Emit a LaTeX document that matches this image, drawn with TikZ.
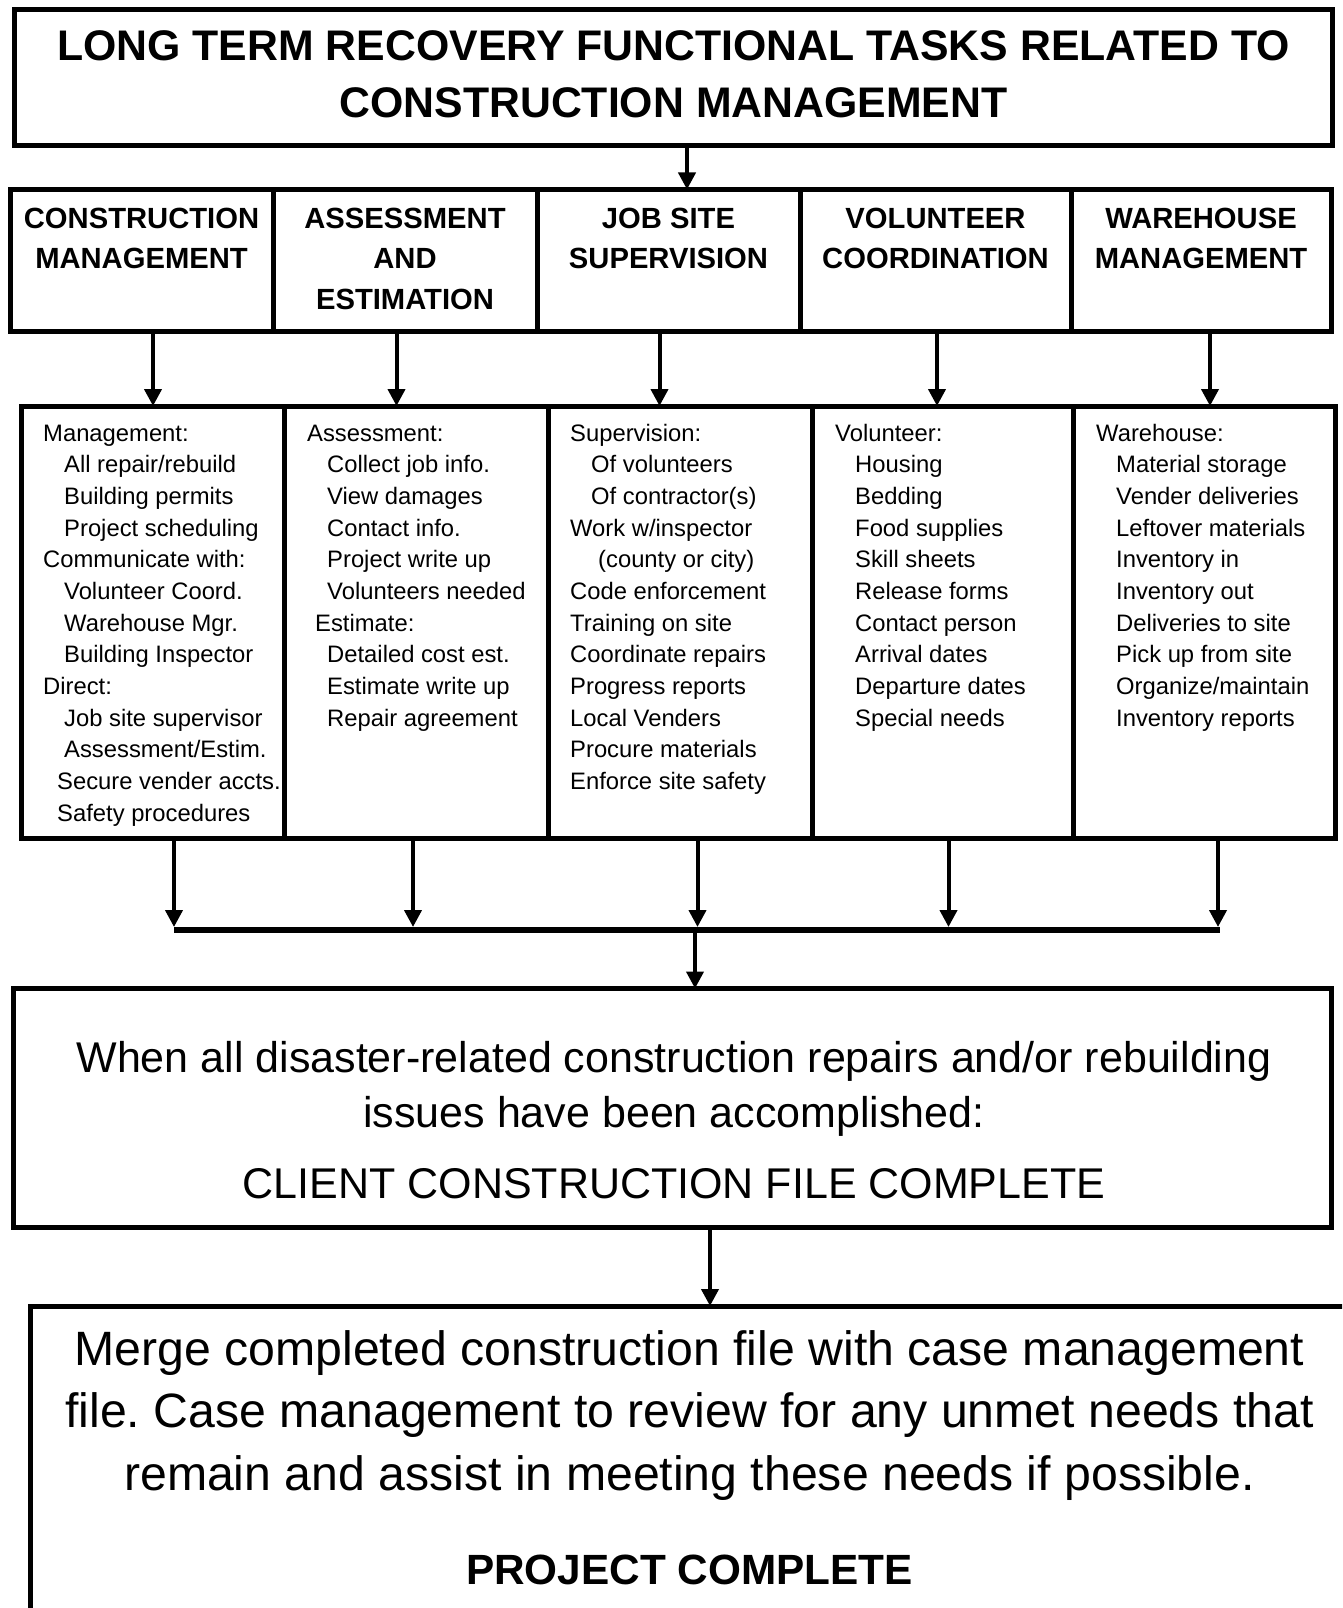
\documentclass[tikz,border=0pt]{standalone}
\usepackage{fontspec}
\setmainfont{Liberation Sans}
\usetikzlibrary{arrows.meta}
\frenchspacing
\begin{document}
\begin{tikzpicture}[x=1pt,y=-1pt,
  box/.style={draw, line width=5pt, rectangle, inner sep=0pt, outer sep=0pt},
  ttl/.style={inner sep=0pt, align=center, anchor=north, font=\bfseries\fontsize{42.8}{57}\selectfont},
  hdr/.style={inner sep=0pt, align=center, anchor=north, font=\bfseries\fontsize{29.2}{40.5}\selectfont},
  lst/.style={inner sep=0pt, align=left, anchor=north west, font=\fontsize{23.8}{31.67}\selectfont},
  arr/.style={line width=4pt, -{Triangle[width=17pt,length=17pt]}},
]
\useasboundingbox (0,0) rectangle (1342,1608);
\clip (0,0) rectangle (1342,1608);
\fill[white] (0,0) rectangle (1342,1608);

% title
\node[box, minimum width=1318pt, minimum height=136pt] (title) at (673,78) {};
\node[ttl] (ttltxt) at (673.5,20.1) {\strut LONG TERM RECOVERY FUNCTIONAL TASKS RELATED TO\\CONSTRUCTION MANAGEMENT};

% header cells
\node[box, minimum width=263pt, minimum height=141.5pt] (h1) at (141.5,260.25) {};
\node[box, minimum width=264pt, minimum height=141.5pt] (h2) at (405,260.25) {};
\node[box, minimum width=263pt, minimum height=141.5pt] (h3) at (668.5,260.25) {};
\node[box, minimum width=271pt, minimum height=141.5pt] (h4) at (935.5,260.25) {};
\node[box, minimum width=260pt, minimum height=141.5pt] (h5) at (1201,260.25) {};

\node[hdr] (ht1) at (141.5,199.65) {\strut CONSTRUCTION\\MANAGEMENT};
\node[hdr] (ht2) at (405,199.65) {\strut ASSESSMENT\\AND\\ESTIMATION};
\node[hdr] (ht3) at (668.5,199.65) {\strut JOB SITE\\SUPERVISION};
\node[hdr] (ht4) at (935.5,199.65) {\strut VOLUNTEER\\COORDINATION};
\node[hdr] (ht5) at (1201,199.65) {\strut WAREHOUSE\\MANAGEMENT};

\coordinate (t0) at (687,0);
\draw[arr] (t0 |- title.south) -- (t0 |- h3.north);

% detail cells
\node[box, minimum width=263pt, minimum height=432pt] (d1) at (152.5,622) {};
\node[box, minimum width=264pt, minimum height=432pt] (d2) at (416,622) {};
\node[box, minimum width=264pt, minimum height=432pt] (d3) at (680,622) {};
\node[box, minimum width=261pt, minimum height=432pt] (d4) at (942.5,622) {};
\node[box, minimum width=262pt, minimum height=432pt] (d5) at (1204,622) {};

\coordinate (a1) at (153,0);
\coordinate (a2) at (396.5,0);
\coordinate (a3) at (659.5,0);
\coordinate (a4) at (937,0);
\coordinate (a5) at (1210,0);
\draw[arr] (a1 |- h1.south) -- (a1 |- d1.north);
\draw[arr] (a2 |- h2.south) -- (a2 |- d2.north);
\draw[arr] (a3 |- h3.south) -- (a3 |- d3.north);
\draw[arr] (a4 |- h4.south) -- (a4 |- d4.north);
\draw[arr] (a5 |- h5.south) -- (a5 |- d5.north);

\node[lst] (l1) at (43,418.8) {\strut Management:\\
\hspace*{21pt}All repair/rebuild\\
\hspace*{21pt}Building permits\\
\hspace*{21pt}Project scheduling\\
Communicate with:\\
\hspace*{21pt}Volunteer Coord.\\
\hspace*{21pt}Warehouse Mgr.\\
\hspace*{21pt}Building Inspector\\
Direct:\\
\hspace*{21pt}Job site supervisor\\
\hspace*{21pt}Assessment/Estim.\\
\hspace*{14pt}Secure vender accts.\\
\hspace*{14pt}Safety procedures};

\node[lst] (l2) at (307,418.8) {\strut Assessment:\\
\hspace*{20pt}Collect job info.\\
\hspace*{20pt}View damages\\
\hspace*{20pt}Contact info.\\
\hspace*{20pt}Project write up\\
\hspace*{20pt}Volunteers needed\\
\hspace*{8pt}Estimate:\\
\hspace*{20pt}Detailed cost est.\\
\hspace*{20pt}Estimate write up\\
\hspace*{20pt}Repair agreement};

\node[lst] (l3) at (570,418.8) {\strut Supervision:\\
\hspace*{21pt}Of volunteers\\
\hspace*{21pt}Of contractor(s)\\
Work w/inspector\\
\hspace*{28pt}(county or city)\\
Code enforcement\\
Training on site\\
Coordinate repairs\\
Progress reports\\
Local Venders\\
Procure materials\\
Enforce site safety};

\node[lst] (l4) at (835,418.8) {\strut Volunteer:\\
\hspace*{20pt}Housing\\
\hspace*{20pt}Bedding\\
\hspace*{20pt}Food supplies\\
\hspace*{20pt}Skill sheets\\
\hspace*{20pt}Release forms\\
\hspace*{20pt}Contact person\\
\hspace*{20pt}Arrival dates\\
\hspace*{20pt}Departure dates\\
\hspace*{20pt}Special needs};

\node[lst] (l5) at (1096,418.8) {\strut Warehouse:\\
\hspace*{20pt}Material storage\\
\hspace*{20pt}Vender deliveries\\
\hspace*{20pt}Leftover materials\\
\hspace*{20pt}Inventory in\\
\hspace*{20pt}Inventory out\\
\hspace*{20pt}Deliveries to site\\
\hspace*{20pt}Pick up from site\\
\hspace*{20pt}Organize/maintain\\
\hspace*{20pt}Inventory reports};

% collector bar
\coordinate (barL) at (174,930);
\coordinate (barR) at (1220,930);
\coordinate (barM) at (695,930);
\draw[line width=6pt] (barL) -- (barR);
\coordinate (b1) at (174,0);
\coordinate (b2) at (413,0);
\coordinate (b3) at (697.5,0);
\coordinate (b4) at (948.5,0);
\coordinate (b5) at (1218,0);
\draw[arr, shorten >=3pt] (b1 |- d1.south) -- (b1 |- barL);
\draw[arr, shorten >=3pt] (b2 |- d2.south) -- (b2 |- barL);
\draw[arr, shorten >=3pt] (b3 |- d3.south) -- (b3 |- barL);
\draw[arr, shorten >=3pt] (b4 |- d4.south) -- (b4 |- barL);
\draw[arr, shorten >=3pt] (b5 |- d5.south) -- (b5 |- barL);

% box 3
\node[box, minimum width=1318.5pt, minimum height=238.5pt] (box3) at (672.25,1107.75) {};
\draw[arr] (barM) -- (barM |- box3.north);
\node[inner sep=0pt, align=center, anchor=north, font=\fontsize{43}{55}\selectfont] (t3) at (674,1033.5)
  {\strut When all disaster-related construction repairs and/or rebuilding\\issues have been accomplished:\\[16pt]CLIENT CONSTRUCTION FILE COMPLETE};

% box 4
\node[box, minimum width=1319.5pt, minimum height=334pt] (box4) at (690.25,1473) {};
\coordinate (m2) at (710,0);
\draw[arr] (m2 |- box3.south) -- (m2 |- box4.north);
\node[inner sep=0pt, align=center, anchor=north, font=\fontsize{48.2}{62.5}\selectfont] (t4) at (689.5,1321.25)
  {\strut Merge completed construction file with case management\\file. Case management to review for any unmet needs that\\remain and assist in meeting these needs if possible.\\[31.5pt]{\bfseries\fontsize{42.3}{50}\selectfont PROJECT COMPLETE}};
\end{tikzpicture}
\end{document}
